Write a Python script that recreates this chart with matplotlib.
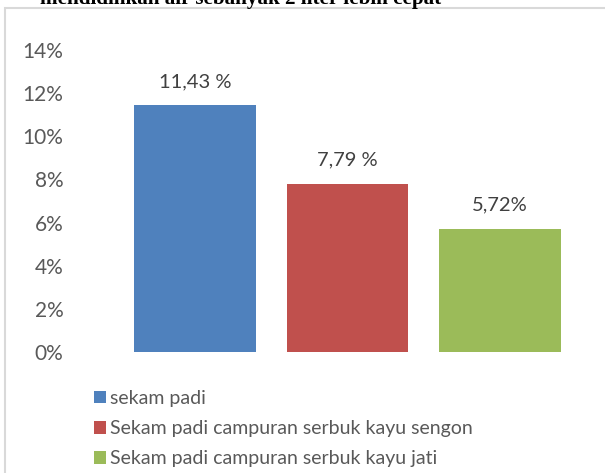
import matplotlib
matplotlib.use('Agg')
import matplotlib.pyplot as plt
from matplotlib.patches import Rectangle, Patch

# data
series = ['sekam padi',
          'Sekam padi campuran serbuk kayu sengon',
          'Sekam padi campuran serbuk kayu jati']
values = [11.43, 7.79, 5.72]
value_labels = ['11,43 %', '7,79 %', '5,72%']
colors = ['#4F81BD', '#C0504D', '#9BBB59']
yticks = [0, 2, 4, 6, 8, 10, 12, 14]
title_text = 'mendidihkan air sebanyak 2 liter lebih cepat'

W, H = 605, 473
fig = plt.figure(figsize=(W / 100, H / 100), dpi=100)
plt.rcParams['font.family'] = ['Lato', 'DejaVu Sans']

# outer chart frame (only top and left edges are visible)
fig.patches.append(Rectangle((5 / W, -0.1), 1.2, 1 - 8 / H + 0.1,
                             transform=fig.transFigure, fill=False,
                             edgecolor='#d9d9d9', linewidth=1.5))

# caption above the chart, cut off by the image edge as in the source
fig.text(40 / W, 1 - 4 / H, title_text, family='Liberation Serif',
         fontweight='bold', fontsize=15.2, va='baseline', ha='left',
         color='black')

ax = fig.add_axes([119 / W, 1 - 352 / H, (576 - 119) / W, (352 - 50) / H])
x = range(len(values))
bars = ax.bar(x, values, width=0.8, color=colors)

for i, v in enumerate(values):
    ax.annotate(value_labels[i], (i, v), xytext=(0, 11), textcoords='offset points',
                ha='center', va='bottom', fontsize=14.5, color='#404040')

ax.set_xlim(-0.5, len(values) - 0.5)
ax.set_ylim(0, 14)
ax.set_yticks(yticks)
ax.set_yticklabels([f'{t}%' for t in yticks], fontsize=15, color='#595959')
ax.tick_params(axis='y', length=0, pad=40)
ax.set_xticks([])
for s in ax.spines.values():
    s.set_visible(False)

handles = [Patch(facecolor=c) for c in colors]
ax.legend(handles, series, loc='upper left', bbox_to_anchor=(94 / W, 1 - 390 / H),
          bbox_transform=fig.transFigure, frameon=False, fontsize=14,
          handlelength=0.6, handleheight=0.6, handletextpad=0.2,
          labelspacing=0.68, borderpad=0, borderaxespad=0,
          labelcolor='#595959')

fig.savefig('out.png', dpi=100)
